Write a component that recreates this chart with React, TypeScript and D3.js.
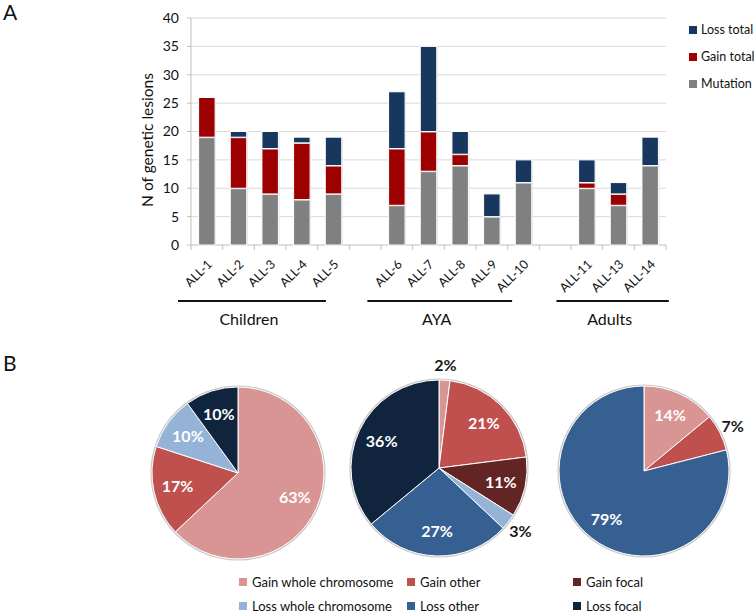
import React from "react";
import * as d3 from "d3";

// bar chart data
const samples = ["ALL-1", "ALL-2", "ALL-3", "ALL-4", "ALL-5", "ALL-6", "ALL-7", "ALL-8", "ALL-9", "ALL-10", "ALL-11", "ALL-13", "ALL-14"];
const slots = ["ALL-1", "ALL-2", "ALL-3", "ALL-4", "ALL-5", "gap1", "ALL-6", "ALL-7", "ALL-8", "ALL-9", "ALL-10", "gap2", "ALL-11", "ALL-13", "ALL-14"];
const mutation = [19, 10, 9, 8, 9, 7, 13, 14, 5, 11, 10, 7, 14];
const gainTotal = [7, 9, 8, 10, 5, 10, 7, 2, 0, 0, 1, 2, 0];
const lossTotal = [0, 1, 3, 1, 5, 10, 15, 4, 4, 4, 4, 2, 5];
const yTicks = [0, 5, 10, 15, 20, 25, 30, 35, 40];
const groups = ["Children", "AYA", "Adults"];
const groupFirst = ["ALL-1", "ALL-6", "ALL-11"];
const groupLast = ["ALL-5", "ALL-10", "ALL-14"];

// pie data (percent)
const pieCategories = ["Gain whole chromosome", "Gain other", "Gain focal", "Loss whole chromosome", "Loss other", "Loss focal"];
const pieChildren = [63, 17, 0, 10, 0, 10];
const pieAYA = [2, 21, 11, 3, 27, 36];
const pieAdults = [14, 7, 0, 0, 79, 0];

const barColors = { mutation: "#808080", gain: "#9c0000", loss: "#17375e" };
const pieColors = ["#d99594", "#c0504d", "#632523", "#95b3d7", "#376092", "#10243e"];
const font = "Lato, 'Open Sans', sans-serif";
const ink = "#111";

const seriesKeys = ["mutation", "gain", "loss"];
const rows = samples.map((s, i) => ({ sample: s, mutation: mutation[i], gain: gainTotal[i], loss: lossTotal[i] }));

function Pie({ values, cx, cy, r, outside }) {
  const arcs = d3.pie().sort(null).value((d) => d)(values);
  const arc = d3.arc().innerRadius(0).outerRadius(r);
  return (
    <g transform={`translate(${cx},${cy})`}>
      <circle r={r + 0.8} fill="none" stroke="#c8c8c8" strokeWidth={1.6} />
      {arcs.map((a, i) =>
        a.value > 0 ? <path key={i} d={arc(a)} fill={pieColors[i]} stroke="#fff" strokeWidth={1} /> : null
      )}
      {arcs.map((a, i) => {
        if (a.value <= 0) return null;
        const out = outside.includes(i);
        const mid = (a.startAngle + a.endAngle) / 2;
        const rl = out ? r * 1.17 : r * 0.72;
        return (
          <text key={"t" + i} x={Math.sin(mid) * rl} y={-Math.cos(mid) * rl} dy="0.36em" textAnchor="middle"
            fontFamily={font} fontWeight="bold" fontSize={16} fill={out ? "#1a1a1a" : "#fff"}>
            {a.value}%
          </text>
        );
      })}
    </g>
  );
}

export default function App() {
  const x = d3.scaleBand().domain(slots).range([191, 666]).paddingInner(0.48).paddingOuter(0.24);
  const step = x.step();
  const y = d3.scaleLinear().domain([0, 40]).range([245, 18]);
  const stacked = d3.stack().keys(seriesKeys)(rows);
  const groupOffsets = [[-0.41, -0.74], [-0.43, -0.86], [-0.46, 0.09]];

  return (
    <svg width={755} height={614} style={{ position: "absolute", left: 0, top: 0, background: "#fff" }}>
      <text x={3} y={20} fontFamily={font} fontSize={21} fill={ink}>A</text>
      <text x={3} y={371} fontFamily={font} fontSize={21} fill={ink}>B</text>

      {/* grid */}
      {yTicks.map((t) => (
        <g key={t}>
          {t > 0 && <line x1={191} x2={666} y1={y(t)} y2={y(t)} stroke="#d9d9d9" />}
          <line x1={187} x2={191} y1={y(t)} y2={y(t)} stroke="#bfbfbf" />
          <text x={179} y={y(t)} dy="0.35em" textAnchor="end" fontFamily={font} fontSize={14} fill={ink}>{t}</text>
        </g>
      ))}
      <line x1={191} x2={191} y1={y(40)} y2={y(0)} stroke="#bfbfbf" />
      <line x1={191} x2={666} y1={y(0)} y2={y(0)} stroke="#bfbfbf" />
      {d3.range(slots.length + 1).map((i) => (
        <line key={i} x1={191 + i * step} x2={191 + i * step} y1={y(0)} y2={y(0) + 5} stroke="#bfbfbf" />
      ))}

      {/* bars */}
      {stacked.map((layer) => (
        <g key={layer.key} fill={barColors[layer.key]}>
          {layer.map((d, i) =>
            d[1] > d[0] ? (
              <g key={i}>
                <rect x={x(samples[i]) + 1} y={y(d[1]) + 1} width={x.bandwidth()} height={y(d[0]) - y(d[1])} fill="#dcdcdc" />
                <rect x={x(samples[i])} y={y(d[1])} width={x.bandwidth()} height={y(d[0]) - y(d[1])} stroke="#fff" strokeWidth={1} />
              </g>
            ) : null
          )}
        </g>
      ))}

      {/* x labels */}
      {samples.map((s) => (
        <text key={s} transform={`translate(${x(s) + x.bandwidth() / 2 + 6},${y(0) + 20}) rotate(-45)`} textAnchor="end"
          fontFamily={font} fontSize={12.5} fill={ink}>{s}</text>
      ))}

      {/* groups */}
      {groups.map((g, i) => {
        const x1 = x(groupFirst[i]) - step * 0.24 + groupOffsets[i][0] * step;
        const x2 = x(groupLast[i]) - step * 0.24 + step + groupOffsets[i][1] * step;
        return (
          <g key={g}>
            <line x1={x1} x2={x2} y1={301} y2={301} stroke="#111" strokeWidth={2} />
            <text x={(x1 + x2) / 2 - 3} y={325} textAnchor="middle" fontFamily={font} fontSize={16} fill={ink}>{g}</text>
          </g>
        );
      })}

      <text transform="translate(153,140) rotate(-90)" textAnchor="middle" fontFamily={font} fontSize={15.5} fill={ink}>N of genetic lesions</text>

      {/* bar legend */}
      {["loss", "gain", "mutation"].map((k, i) => (
        <g key={k} transform={`translate(689,${30 + i * 27})`}>
          <rect x={0} y={-4} width={8} height={8} fill={barColors[k]} />
          <text x={12} dy="0.35em" fontFamily={font} fontSize={12.5} fill={ink}>
            {k === "loss" ? "Loss total" : k === "gain" ? "Gain total" : "Mutation"}
          </text>
        </g>
      ))}

      {/* pies */}
      <Pie values={pieChildren} cx={238} cy={473} r={86} outside={[]} />
      <Pie values={pieAYA} cx={439} cy={468} r={88} outside={[0, 3]} />
      <Pie values={pieAdults} cx={644} cy={471} r={85} outside={[1]} />

      {/* pie legend */}
      {pieCategories.map((c, i) => {
        const col = i % 3;
        const row = Math.floor(i / 3);
        const lx = [239, 407, 573][col];
        return (
          <g key={c} transform={`translate(${lx},${582 + row * 24})`}>
            <rect x={0} y={-4} width={8} height={8} fill={pieColors[i]} />
            <text x={13} dy="0.35em" fontFamily={font} fontSize={13} fill={ink}>{c}</text>
          </g>
        );
      })}
    </svg>
  );
}
